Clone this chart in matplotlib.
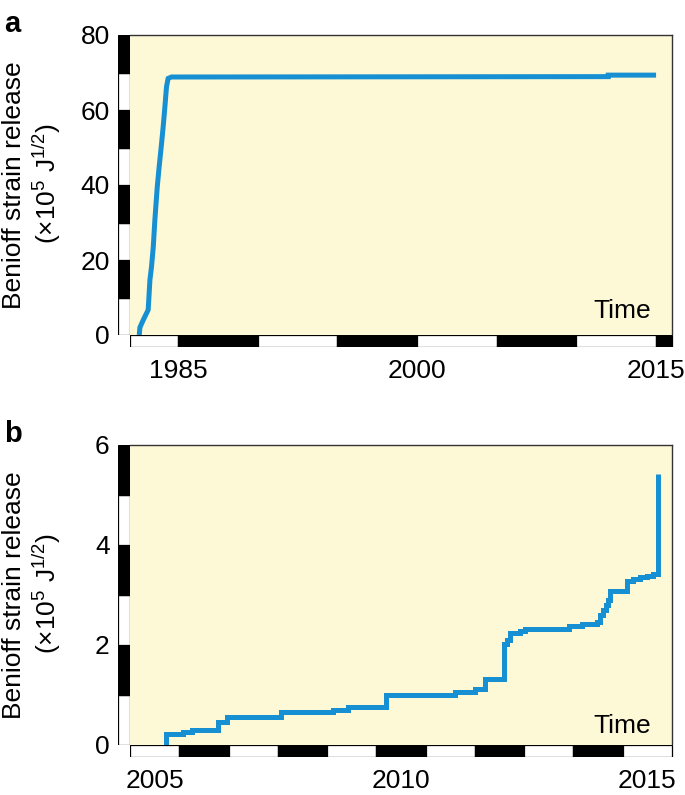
import numpy as np
import matplotlib
matplotlib.use('Agg')
import matplotlib.pyplot as plt

plt.rcParams['font.family'] = ['Liberation Sans', 'DejaVu Sans']
plt.rcParams['mathtext.fontset'] = 'custom'
plt.rcParams['mathtext.rm'] = 'Liberation Sans'
plt.rcParams['mathtext.it'] = 'Liberation Sans:italic'

# panel a: cumulative Benioff strain, 1982-2016 (x10^5 J^1/2)
a_years = [1982.58, 1982.62, 1982.83, 1983.14, 1983.25, 1983.35, 1983.46, 1983.56,
           1983.71, 1983.83, 1983.98, 1984.08, 1984.19, 1984.29, 1984.39, 1984.60,
           2012.00, 2012.00, 2015.00]
a_strain = [0.0, 2.0, 4.0, 6.7, 14.7, 18.2, 23.5, 30.7,
            39.5, 44.9, 51.1, 55.5, 60.9, 66.2, 68.4, 68.8,
            68.9, 69.3, 69.3]
a_xlim = (1982, 2016)
a_ylim = (0, 80)
a_xticks = [1985, 2000, 2015]
a_yticks = [0, 20, 40, 60, 80]

# panel b: 2005-2015, step-wise (value holds until next event)
b_years = [2005.23, 2005.23, 2005.58, 2005.75, 2006.29, 2006.46, 2007.57, 2008.61,
           2008.92, 2009.69, 2011.10, 2011.51, 2011.71, 2012.10, 2012.15, 2012.22,
           2012.42, 2012.52, 2013.40, 2013.67, 2013.97, 2014.04, 2014.10, 2014.17,
           2014.21, 2014.24, 2014.58, 2014.70, 2014.85, 2015.00, 2015.12, 2015.22,
           2015.22]
b_strain = [0.0, 0.22, 0.27, 0.30, 0.47, 0.57, 0.67, 0.71,
            0.76, 1.00, 1.07, 1.12, 1.33, 2.03, 2.10, 2.25,
            2.29, 2.33, 2.38, 2.43, 2.47, 2.60, 2.70, 2.80,
            2.90, 3.09, 3.29, 3.32, 3.36, 3.39, 3.42, 3.43,
            5.43]
b_xlim = (2004.5, 2015.5)
b_ylim = (0, 6)
b_xticks = [2005, 2010, 2015]
b_yticks = [0, 2, 4, 6]

BLUE = '#1690d2'
BG = '#fdf8d6'
W, H = 685, 795
FS = 19

fig = plt.figure(figsize=(W / 100, H / 100), dpi=100)


def px_axes(x0, y0, x1, y1):
    # pixel box measured from the top-left corner
    return fig.add_axes([x0 / W, 1 - y1 / H, (x1 - x0) / W, (y1 - y0) / H])


def checker(ax, edges, vertical):
    # alternating white/black frame bar, white first
    for i in range(len(edges) - 1):
        c = 'white' if i % 2 == 0 else 'black'
        if vertical:
            ax.bar(0.5, edges[i + 1] - edges[i], bottom=edges[i], width=1,
                   color=c, edgecolor='black', lw=0.9, align='center')
        else:
            ax.barh(0.5, edges[i + 1] - edges[i], left=edges[i], height=1,
                    color=c, edgecolor='black', lw=0.9, align='center')


def panel(top, years, strain, xlim, ylim, xticks, yticks, xedges, ystep,
          letter, steps, time_y):
    ax = px_axes(130, top, 672, top + 300)
    ax.set_facecolor(BG)
    ax.plot(years, strain, color=BLUE, lw=3.6,
            drawstyle='steps-post' if steps else 'default',
            solid_joinstyle='miter', solid_capstyle='butt')
    ax.set_xlim(xlim)
    ax.set_ylim(ylim)
    ax.set_xticks([])
    ax.set_yticks([])
    ax.spines['left'].set_visible(False)
    ax.spines['bottom'].set_visible(False)
    for s in ['top', 'right']:
        ax.spines[s].set_color('#333333')
        ax.spines[s].set_linewidth(1.0)
    ax.text(0.962, time_y, 'Time', transform=ax.transAxes, ha='right',
            va='baseline', fontsize=FS)

    # left frame bar with y labels
    axl = px_axes(118, top, 130, top + 300)
    axl.set_xlim(0, 1)
    axl.set_ylim(ylim)
    checker(axl, np.arange(ylim[0], ylim[1] + ystep / 2, ystep), True)
    axl.set_xticks([])
    axl.set_yticks(yticks)
    axl.tick_params(axis='y', length=0, pad=6, labelsize=FS)
    for s in axl.spines.values():
        s.set_visible(False)

    # bottom frame bar with x labels
    axb = px_axes(130, top + 300, 674, top + 312)
    axb.set_ylim(0, 1)
    axb.set_xlim(xlim[0], xlim[0] + (xlim[1] - xlim[0]) * 544 / 542)
    checker(axb, xedges, False)
    axb.set_yticks([])
    axb.set_xticks(xticks)
    axb.tick_params(axis='x', length=0, pad=9, labelsize=FS)
    for s in axb.spines.values():
        s.set_visible(False)

    fig.text(4 / W, 1 - (top - 3) / H, letter, fontsize=21, fontweight='bold',
             ha='left', va='baseline')
    fig.text(14 / W, 1 - (top + 150) / H, 'Benioff strain release',
             rotation=90, ha='center', va='center', fontsize=19)
    fig.text(47 / W, 1 - (top + 148) / H, r'($\times$10$^{5}$ J$^{1/2}$)',
             rotation=90, ha='center', va='center', fontsize=19)


a_edges = [a_xlim[0]] + list(range(1985, 2016, 5)) + [a_xlim[1]]
b_edges = list(np.arange(b_xlim[0], b_xlim[1] + 0.5, 1.0))

panel(35, a_years, a_strain, a_xlim, a_ylim, a_xticks, a_yticks, a_edges, 10,
      'a', False, 0.057)
panel(445, b_years, b_strain, b_xlim, b_ylim, b_xticks, b_yticks, b_edges, 1,
      'b', True, 0.04)

fig.savefig('out.png', dpi=100, facecolor='white')
